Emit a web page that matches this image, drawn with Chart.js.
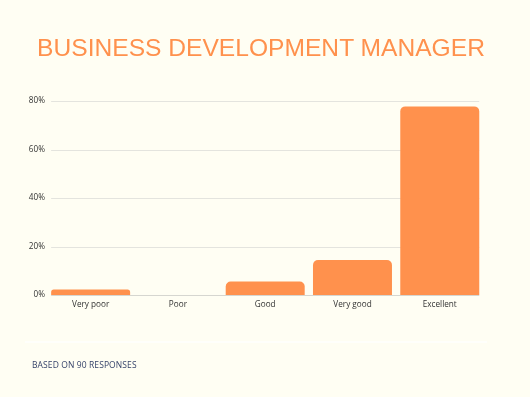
<!DOCTYPE html>
<html>
<head>
<meta charset="utf-8">
<script src="https://cdn.jsdelivr.net/npm/chart.js@4/dist/chart.umd.min.js"></script>
<style>
  html, body { margin:0; padding:0; background:#FFFEF3; }
  #wrap { position:relative; width:530px; height:397px; overflow:hidden; background:#FFFEF3; }
  #title { position:absolute; left:-4px; top:31px; width:530px; text-align:center; font-family:"Liberation Sans", Arial, sans-serif; font-size:24.6px; color:#FF914D; line-height:34px; white-space:nowrap; }
  #foot { position:absolute; left:32px; top:359px; font-family:"Open Sans", sans-serif; font-size:8.5px; color:#36436A; letter-spacing:0.1px; }
  #sep { position:absolute; left:25px; top:341px; width:462px; height:2px; background:#FFFFFB; }
  canvas { position:absolute; left:0; top:0; }
</style>
</head>
<body>
<div id="wrap">
  <div id="sep"></div>
  <canvas id="c" width="530" height="397"></canvas>
  <div id="title">BUSINESS DEVELOPMENT MANAGER</div>
  <div id="foot">BASED ON 90 RESPONSES</div>
</div>
<script>
const categories = ["Very poor", "Poor", "Good", "Very good", "Excellent"];
const values = [2.22, 0, 5.56, 14.44, 77.78];
const yTicks = [0, 20, 40, 60, 80];

const gridPlugin = {
  id: 'edgeGrid',
  beforeDatasetsDraw(chart) {
    const meta = chart.getDatasetMeta(0);
    const first = meta.data[0], last = meta.data[meta.data.length - 1];
    const x0 = first.x - first.width / 2, x1 = last.x + last.width / 2;
    const ys = chart.scales.y;
    const ctx = chart.ctx;
    ctx.save();
    ctx.lineWidth = 1;
    yTicks.forEach(v => {
      const y = Math.round(ys.getPixelForValue(v)) + 0.5;
      ctx.strokeStyle = v === 0 ? '#D6D6D0' : '#E4E4DE';
      ctx.beginPath();
      ctx.moveTo(x0, y);
      ctx.lineTo(x1, y);
      ctx.stroke();
    });
    ctx.restore();
  }
};

new Chart(document.getElementById('c'), {
  type: 'bar',
  data: {
    labels: categories,
    datasets: [{
      data: values,
      backgroundColor: '#FF914D',
      borderRadius: 5,
      borderSkipped: 'bottom',
      categoryPercentage: 1,
      barPercentage: 0.905
    }]
  },
  plugins: [gridPlugin],
  options: {
    responsive: false,
    animation: false,
    layout: { padding: { top: 101, right: 46.6, bottom: 82, left: 0 } },
    plugins: { legend: { display: false }, tooltip: { enabled: false } },
    scales: {
      x: {
        grid: { display: false, drawTicks: false },
        border: { display: false },
        ticks: { color: '#333', font: { family: 'Open Sans', size: 8.2 }, padding: 5, maxRotation: 0 },
        afterFit: s => { s.height = 20; }
      },
      y: {
        min: 0, max: 80,
        afterBuildTicks: s => { s.ticks = yTicks.map(v => ({ value: v })); },
        grid: { display: false, drawTicks: false },
        border: { display: false },
        ticks: { color: '#333', font: { family: 'Open Sans', size: 8.2 }, padding: 2, callback: v => v + '%' },
        afterFit: s => { s.width = 47; }
      }
    }
  }
});
</script>
</body>
</html>
